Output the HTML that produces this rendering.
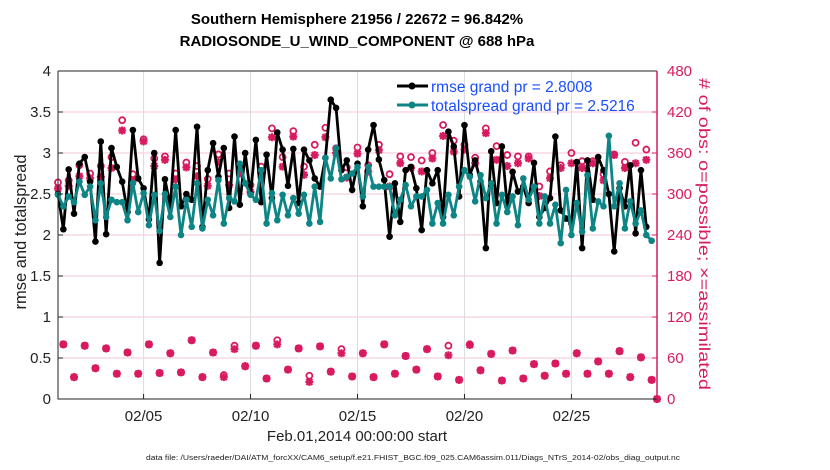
<!DOCTYPE html>
<html><head><meta charset="utf-8"><style>
body{margin:0;background:#fff;}
svg{display:block;font-family:"Liberation Sans",Arial,sans-serif;}
</style></head><body>
<svg id="chart" width="830" height="470" viewBox="0 0 830 470">
<rect x="0" y="0" width="830" height="470" fill="#fff"/>
<g id="grid"></g>
<g id="series"></g>
<g id="axes"></g>
<text x="357" y="24" text-anchor="middle" font-size="15" font-weight="bold">Southern Hemisphere 21956 / 22672 = 96.842%</text>
<text x="357" y="46" text-anchor="middle" font-size="15" font-weight="bold">RADIOSONDE_U_WIND_COMPONENT @ 688 hPa</text>
<text x="357" y="441" text-anchor="middle" font-size="15" fill="#222">Feb.01,2014 00:00:00 start</text>
<text transform="translate(26,232) rotate(-90)" text-anchor="middle" font-size="16.5" fill="#222">rmse and totalspread</text>
<text transform="translate(699,234) rotate(90)" text-anchor="middle" font-size="16" textLength="312" lengthAdjust="spacingAndGlyphs" fill="#d81b60"># of obs: o=possible; ×=assimilated</text>
<text x="413" y="460" text-anchor="middle" font-size="7" textLength="534" lengthAdjust="spacingAndGlyphs" fill="#222">data file: /Users/raeder/DAI/ATM_forcXX/CAM6_setup/f.e21.FHIST_BGC.f09_025.CAM6assim.011/Diags_NTrS_2014-02/obs_diag_output.nc</text>
<g>
<line x1="397" y1="86" x2="428" y2="86" stroke="#000" stroke-width="3"/>
<circle cx="412" cy="86" r="3.5" fill="#000"/>
<text x="431" y="92" font-size="15.5" fill="#1a4dff">rmse grand pr = 2.8008</text>
<line x1="397" y1="105" x2="428" y2="105" stroke="#0e8585" stroke-width="3"/>
<circle cx="412" cy="105" r="3.5" fill="#0e8585"/>
<text x="431" y="111" font-size="15.5" fill="#1a4dff">totalspread grand pr = 2.5216</text>
</g>
</svg>
<script>
const rmse=[2.5,2.07,2.8,2.26,2.87,2.95,2.65,1.92,3.14,2.01,3.06,2.83,2.65,2.28,3.28,2.69,2.57,2.19,3.0,1.66,2.68,2.35,3.28,2.35,2.5,2.43,3.32,2.1,2.79,3.12,2.71,3.06,2.33,3.2,2.37,3.0,2.5,3.16,2.4,2.98,2.45,3.25,3.04,2.6,3.05,2.39,3.04,2.91,2.69,2.59,2.94,3.65,3.55,2.79,2.91,2.55,2.87,
2.35,3.04,3.34,2.92,2.67,1.98,2.63,2.16,2.79,2.83,2.57,2.06,2.79,2.63,2.79,2.22,3.26,3.08,2.47,3.34,2.73,2.91,2.65,1.84,3.02,2.39,3.08,2.35,2.77,2.53,2.59,2.39,2.88,2.22,2.33,2.45,3.2,2.3,2.2,2.14,2.89,1.84,2.91,2.43,2.95,2.79,2.5,1.8,2.57,2.35,2.85,2.02,2.79,2.1];
const spread=[2.49,2.35,2.47,2.4,2.65,2.49,2.59,2.18,2.63,2.22,2.43,2.4,2.4,2.18,2.63,2.28,2.51,2.12,2.49,2.05,2.5,2.22,2.59,2.0,2.43,2.1,2.63,2.08,2.43,2.24,2.67,2.14,2.45,2.41,2.87,2.63,2.49,2.43,2.79,2.14,2.51,2.18,2.49,2.24,2.45,2.26,2.49,2.14,2.59,2.16,2.94,2.69,3.06,2.68,2.71,2.75,2.83,
2.47,2.83,2.59,2.59,2.59,2.59,2.24,2.43,2.61,2.35,2.47,2.47,2.55,2.14,2.39,2.14,2.49,2.24,2.59,2.79,2.71,2.41,2.73,2.45,2.63,2.14,2.49,2.28,2.47,2.12,2.69,2.43,2.59,2.14,2.47,2.14,2.37,1.90,2.55,2.0,2.39,2.04,2.73,2.08,2.41,2.35,3.21,2.35,2.63,2.08,2.41,2.14,2.3,2.0,1.93];
// obs at 00Z/12Z (even steps)
const synAssim=[308,312,326,323,325,338,393,320,377,341,350,321,339,326,312,347,313,330,303,331,383,340,384,328,357,383,360,324,359,333,364,311,345,338,333,352,385,362,365,345,389,350,341,345,352,297,323,338,345,338,345,320,357,338,345,350];
const synPoss=[317,320,342,330,341,354,408,329,380,352,355,330,346,341,322,358,330,338,313,340,396,354,392,340,372,397,367,339,368,342,372,329,355,354,349,360,401,378,372,353,396,370,357,355,355,311,333,342,360,348,348,329,358,347,375,365];
// obs at 06Z/18Z (odd steps)
const offAssim=[80,32,78,45,74,37,68,37,80,38,67,39,86,32,68,32,73,48,78,30,80,43,74,25,77,40,67,33,67,32,80,37,63,43,73,33,64,28,79,42,66,27,71,30,51,34,52,37,67,37,55,37,70,32,61,28];
const offPoss=[80,32,78,45,74,37,68,37,80,38,67,39,86,32,68,35,78,48,78,30,86,43,74,34,77,40,73,33,67,32,80,37,63,43,73,33,78,28,80,42,66,27,71,30,51,34,52,37,67,37,55,37,70,32,61,28];
const finalObs=[0];
const xTicks=[4,9,14,19,24];
const xTickLabels=["02/05","02/10","02/15","02/20","02/25"];
const yTicks=[0,0.5,1,1.5,2,2.5,3,3.5,4];
const yTickLabels=["0","0.5","1","1.5","2","2.5","3","3.5","4"];
const rTicks=[0,60,120,180,240,300,360,420,480];

const X0=58,X1=657,Y0=399,Y1=71;
const xs=d=>X0+(d/28)*(X1-X0);
const ys=v=>Y0-(v/4)*(Y0-Y1);
const yr=n=>Y0-(n/480)*(Y0-Y1);
const NS="http://www.w3.org/2000/svg";
function mk(tag,attrs,parent){const e=document.createElementNS(NS,tag);for(const k in attrs)e.setAttribute(k,attrs[k]);parent.appendChild(e);return e;}
const grid=document.getElementById('grid'),ser=document.getElementById('series'),ax=document.getElementById('axes');

yTicks.forEach((v,i)=>{
 if(v>0&&v<4){const l=mk('line',{x1:X0,x2:X1,y1:ys(v),y2:ys(v),stroke:'#f4c6d6','stroke-width':1},grid);
 
 }
 const t=mk('text',{x:X0-7,y:ys(v)+5,'text-anchor':'end','font-size':15,fill:'#222'},ax);t.textContent=yTickLabels[i];
 
 
 mk('line',{x1:X0,x2:X0+5,y1:ys(v),y2:ys(v),stroke:'#222'},ax);
});
rTicks.forEach(n=>{
 const t=mk('text',{x:X1+10,y:yr(n)+5,'font-size':15,fill:'#d81b60'},ax);t.textContent=n;
 
 
 mk('line',{x1:X1-5,x2:X1,y1:yr(n),y2:yr(n),stroke:'#d81b60'},ax);
});
xTicks.forEach((d,i)=>{
 const l=mk('line',{x1:xs(d),x2:xs(d),y1:Y1,y2:Y0,stroke:'#dcdcdc'},grid);
 
 
 mk('line',{x1:xs(d),x2:xs(d),y1:Y0,y2:Y0-5,stroke:'#222'},ax);
 const t=mk('text',{x:xs(d),y:Y0+22,'text-anchor':'middle','font-size':15,fill:'#222'},ax);t.textContent=xTickLabels[i];
 
 
});
const frame=mk('path',{d:`M${X0},${Y1}V${Y0}H${X1}M${X0},${Y1}H${X1}`,stroke:'#222',fill:'none'},ax);


const ra=mk('line',{x1:X1,x2:X1,y1:Y1,y2:Y0,stroke:'#d81b60','stroke-width':1.5},ax);



// observation counts
const assim=[],poss=[];
synAssim.forEach((v,k)=>{assim[2*k]=v;poss[2*k]=synPoss[k];});
offAssim.forEach((v,k)=>{assim[2*k+1]=v;poss[2*k+1]=offPoss[k];});
assim.push(finalObs[0]);poss.push(finalObs[0]);
assim.forEach((n,i)=>{
 const x=xs(i/4);
 const c=mk('circle',{cx:x,cy:yr(poss[i]),r:3,fill:'none',stroke:'#d81b60','stroke-width':1.8},ser);
 
 
 const y=yr(n);
 const s=mk('path',{d:`M${x-4},${y}H${x+4}M${x},${y-4}V${y+4}M${x-3},${y-3}L${x+3},${y+3}M${x-3},${y+3}L${x+3},${y-3}`,stroke:'#d81b60','stroke-width':2.2},ser);
 
 
});
function line(arr,col,name){
 const pts=arr.map((v,i)=>xs(i/4)+','+ys(v)).join(' ');
 const p=mk('polyline',{points:pts,fill:'none',stroke:col,'stroke-width':2.8,'stroke-linejoin':'round'},ser);
 
 
 arr.forEach((v,i)=>{const c=mk('circle',{cx:xs(i/4),cy:ys(v),r:3.3,fill:col},ser);
 
 });
}
line(rmse,'#000','rmse');
line(spread,'#0e8585','totalspread');
</script>
</body></html>
